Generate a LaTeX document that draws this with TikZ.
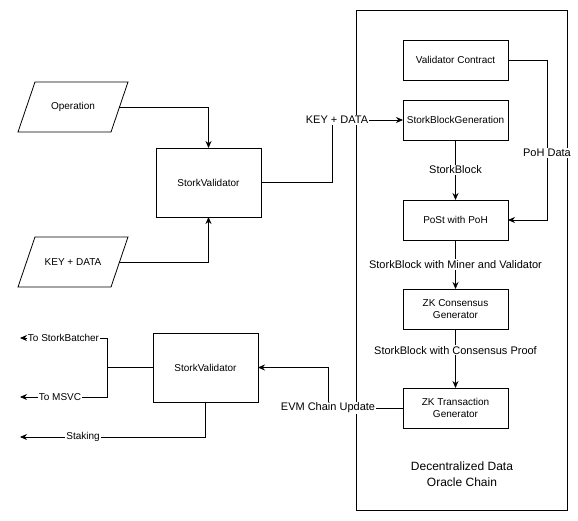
\documentclass[tikz,border=0pt]{standalone}
\usepackage{fontspec}
\setmainfont{Liberation Sans}
\usetikzlibrary{arrows.meta,positioning}
% parallelogram frame round a named node
\newcommand{\slantframe}[1]{%
 \draw[line width=0.8pt] ([xshift=17pt]#1.north west) -- (#1.north east)
 -- ([xshift=-17pt]#1.south east) -- (#1.south west) -- cycle;}

\begin{document}
\begin{tikzpicture}[x=1pt,y=-1pt,
 font=\fontsize{10}{12}\selectfont,
 box/.style={draw,line width=0.8pt,minimum width=105pt,minimum height=40pt,align=center,inner sep=2pt,outer sep=0pt},
 bigbox/.style={draw,line width=0.8pt,minimum width=105pt,minimum height=69pt,outer sep=0pt},
 datain/.style={minimum width=110pt,minimum height=50pt,inner sep=0pt,outer sep=0pt},
 flow/.style={-{Stealth[length=7pt,width=6pt]},line width=0.8pt},
 edgelbl/.style={fill=white,inner sep=1pt,font=\fontsize{11}{13}\selectfont},
 outlbl/.style={fill=white,inner sep=1pt,font=\fontsize{10}{12}\selectfont}]
\useasboundingbox (0,0) rectangle (578,521);
% oracle chain container
\draw[line width=0.8pt] (356,10) rectangle (567,510);
\node[align=center,font=\fontsize{12}{16}\selectfont] (chainlbl) at (462,474) {Decentralized Data\\Oracle Chain};
% chain stages
\node[box] (vc) at (455.5,60) {Validator Contract};
\node[box,below=20pt of vc] (sbg) {StorkBlockGeneration};
\node[box,below=60pt of sbg] (post) {PoSt with PoH};
\node[box,below=49pt of post] (zkc) {ZK Consensus\\Generator};
\node[box,below=59pt of zkc] (zkt) {ZK Transaction\\Generator};
% inputs and validators
\node[datain] (op) at (73,107) {Operation};
\node[datain] (kd) at (73,262) {KEY + DATA};
\slantframe{op}
\slantframe{kd}
\node[bigbox] (sv1) at (208.5,182.5) {StorkValidator};
\node[bigbox] (sv2) at (205.5,367.5) {StorkValidator};
\coordinate (tobatch) at (20,338);
\coordinate (tomsvc) at (20,397);
\coordinate (tostake) at (20,437);
% connectors
\draw[flow] ([xshift=-9pt]op.east) -| (sv1.north);
\draw[flow] ([xshift=-9pt]kd.east) -| (sv1.south);
\draw[flow] (sv1.east) -- ++(71,0) |- node[edgelbl,xshift=5pt]{KEY + DATA} (sbg.west);
\draw[flow] (vc.east) -- ++(39,0) |- node[edgelbl,pos=0.29]{PoH Data} (post.east);
\draw[flow] (sbg) -- node[edgelbl]{StorkBlock} (post);
\draw[flow] (post) -- node[edgelbl]{StorkBlock with Miner and Validator} (zkc);
\draw[flow] (zkc) -- node[edgelbl,pos=0.36]{StorkBlock with Consensus Proof} (zkt);
\draw[flow] (zkt.west) -- ++(-75,0) node[edgelbl]{EVM Chain Update} |- (sv2.east);
\draw[flow] (sv2.west) -- ++(-46,0) |- node[outlbl,pos=0.75]{To StorkBatcher} (tobatch);
\draw[flow] (sv2.west) -- ++(-46,0) |- node[outlbl,pos=0.77]{To MSVC} (tomsvc);
\draw[flow] (sv2.south) |- node[outlbl,pos=0.83]{Staking} (tostake);
\end{tikzpicture}
\end{document}
